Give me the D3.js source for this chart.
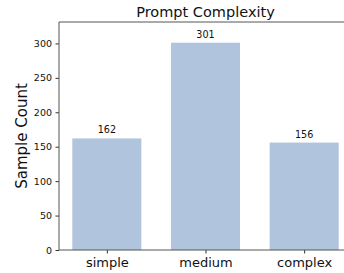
<!DOCTYPE html>
<html lang="en">
<head>
    <meta charset="UTF-8">
    <title>Prompt Complexity</title>
    <script src="https://d3js.org/d3.v7.min.js"></script>
    <style>
        body { margin: 0; background: #fff; }
        text { font-family: "DejaVu Sans", sans-serif; }
    </style>
</head>
<body>
    <svg width="344" height="273"></svg>
    <script>
        // Data
        const categories = ["simple", "medium", "complex"];
        const counts = [162, 301, 156];
        const yTicks = [0, 50, 100, 150, 200, 250, 300];

        const svgWidth = 344;
        const svgHeight = 273;
        const svg = d3.select("svg")
            .attr("width", svgWidth)
            .attr("height", svgHeight);

        // Plot area (right side runs past the window edge)
        const margin = { top: 22, left: 59 };
        const width = 293;
        const height = 228;

        const g = svg.append("g")
            .attr("transform", `translate(${margin.left},${margin.top})`);

        // Scales
        const xScale = d3.scaleLinear()
            .domain([-0.485, categories.length - 1 + 0.485])
            .range([0, width]);
        const yScale = d3.scaleLinear()
            .domain([0, d3.max(counts) * 1.1])
            .range([height, 0]);
        const barWidth = xScale(0.7) - xScale(0);

        // Bars
        g.selectAll("rect.bar")
            .data(counts)
            .enter()
            .append("rect")
            .attr("class", "bar")
            .attr("x", (d, i) => xScale(i) - barWidth / 2)
            .attr("width", barWidth)
            .attr("y", d => yScale(d))
            .attr("height", d => height - yScale(d))
            .attr("fill", "#b0c4de");

        // Value labels
        g.selectAll("text.value")
            .data(counts)
            .enter()
            .append("text")
            .attr("class", "value")
            .attr("x", (d, i) => xScale(i))
            .attr("y", d => yScale(d) - 5)
            .attr("text-anchor", "middle")
            .attr("font-size", 9.6)
            .attr("fill", "#111")
            .text(d => d);

        // Y axis
        const yAxis = d3.axisLeft(yScale)
            .tickValues(yTicks)
            .tickSize(3.5)
            .tickPadding(3.5);
        const yg = g.append("g").call(yAxis);
        yg.select(".domain").remove();
        yg.selectAll("text").attr("font-size", 9.5).attr("fill", "#111");
        yg.selectAll("line").attr("stroke", "#333");

        // X axis
        const xAxis = d3.axisBottom(xScale)
            .tickValues(categories.map((c, i) => i))
            .tickFormat(i => categories[i])
            .tickSize(3.5)
            .tickPadding(4);
        const xg = g.append("g")
            .attr("transform", `translate(0,${height})`)
            .call(xAxis);
        xg.select(".domain").remove();
        xg.selectAll("text").attr("font-size", 13).attr("fill", "#111");
        xg.selectAll("line").attr("stroke", "#333");

        // Spines
        const spines = [
            [0, 0, 0, height],
            [0, height, width, height],
            [0, 0, width, 0],
            [width, 0, width, height]
        ];
        g.selectAll("line.spine")
            .data(spines)
            .enter()
            .append("line")
            .attr("class", "spine")
            .attr("x1", d => d[0]).attr("y1", d => d[1])
            .attr("x2", d => d[2]).attr("y2", d => d[3])
            .attr("stroke", "#555")
            .attr("stroke-width", 1);

        // Title
        svg.append("text")
            .attr("x", margin.left + width / 2)
            .attr("y", 17)
            .attr("text-anchor", "middle")
            .attr("font-size", 14.5)
            .attr("fill", "#111")
            .text("Prompt Complexity");

        // Y label
        svg.append("text")
            .attr("transform", `translate(27,${margin.top + height / 2}) rotate(-90)`)
            .attr("text-anchor", "middle")
            .attr("font-size", 15)
            .attr("fill", "#111")
            .text("Sample Count");
    </script>
</body>
</html>
